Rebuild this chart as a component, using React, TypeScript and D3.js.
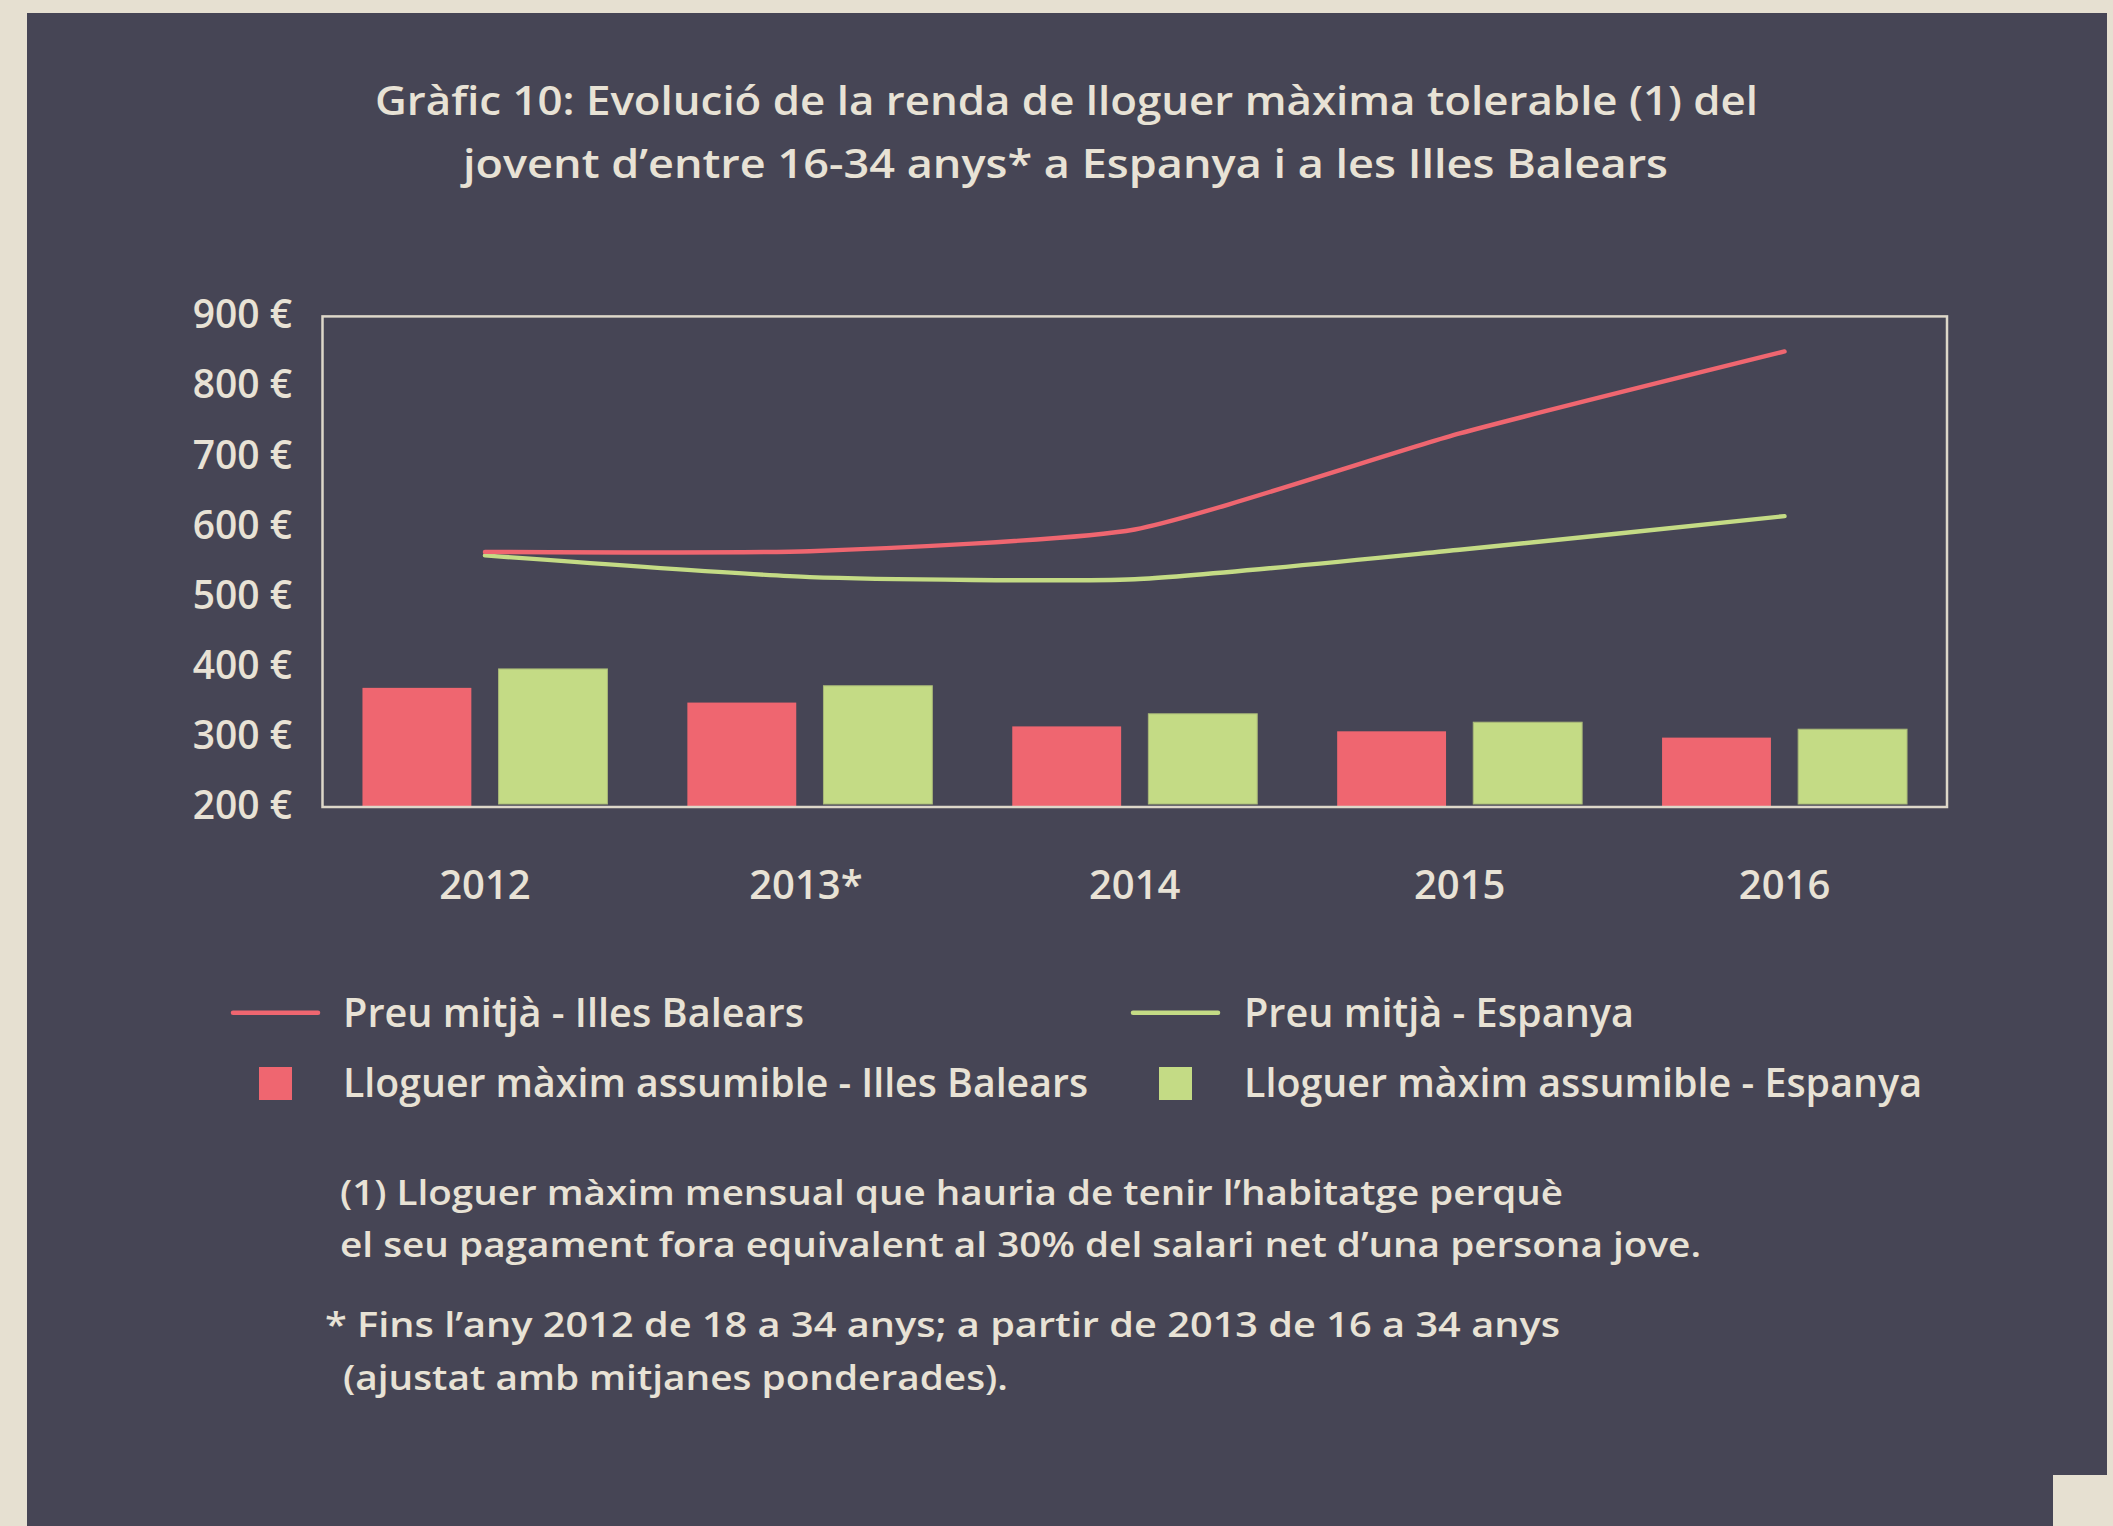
import React from "react";
import * as d3 from "d3";

const years = ["2012", "2013*", "2014", "2015", "2016"];
const preuBalears = [564, 565, 596, 733, 850];
const preuEspanya = [559, 528, 525, 567, 615];
const lloguerBalears = [370, 349, 315, 308, 299];
const lloguerEspanya = [397, 373, 333, 321, 311];
const yTicks = [200, 300, 400, 500, 600, 700, 800, 900];

const titleLines = [
  "Gràfic 10: Evolució de la renda de lloguer màxima tolerable (1) del",
  "jovent d\u2019entre 16-34 anys* a Espanya i a les Illes Balears",
];
const legendLabels = [
  "Preu mitjà - Illes Balears",
  "Preu mitjà - Espanya",
  "Lloguer màxim assumible - Illes Balears",
  "Lloguer màxim assumible - Espanya",
];
const noteLines = [
  "(1) Lloguer màxim mensual que hauria de tenir l\u2019habitatge perquè",
  "el seu pagament fora equivalent al 30% del salari net d\u2019una persona jove.",
  "* Fins l\u2019any 2012 de 18 a 34 anys; a partir de 2013 de 16 a 34 anys",
  "(ajustat amb mitjanes ponderades).",
];

const W = 2113;
const H = 1526;
const BG = "#e6e0d1";
const PANEL = "#464555";
const TEXT = "#e8e2d5";
const RED = "#ef6670";
const GREEN = "#c4db85";
const FONT = "'Open Sans', Lato, sans-serif";

export default function App() {
  const left = 322.5;
  const right = 1947;
  const top = 316.4;
  const bottom = 807;

  const x0 = d3
    .scaleBand<string>()
    .domain(years)
    .range([left, right])
    .paddingInner(0.246)
    .paddingOuter(0.123);
  const x1 = d3
    .scaleBand<string>()
    .domain(["b", "e"])
    .range([0, x0.bandwidth()])
    .paddingInner(0.2)
    .paddingOuter(0);
  const y = d3.scaleLinear().domain([200, 900]).range([bottom, top]);

  const cx = (i: number) => (x0(years[i]) as number) + x0.bandwidth() / 2;
  const line = d3
    .line<number>()
    .x((_, i) => cx(i))
    .y((d) => y(d))
    .curve(d3.curveCardinal.tension(0.45));

  const T = (props: any) => (
    <text fill={TEXT} fontWeight={600} lengthAdjust="spacingAndGlyphs" {...props} />
  );

  return (
    <svg
      width={W}
      height={H}
      style={{ position: "absolute", left: 0, top: 0, display: "block" }}
      fontFamily={FONT}
    >
      <rect x={0} y={0} width={W} height={H} fill={BG} />
      <path d={`M27,13 H2107 V1475 H2053 V${H} H27 Z`} fill={PANEL} />

      {/* Title */}
      <T x={375} y={115} fontSize={40} textLength={1383}>{titleLines[0]}</T>
      <T x={463} y={178} fontSize={40} textLength={1205}>{titleLines[1]}</T>

      {/* Bars */}
      {years.map((yr, i) => (
        <g key={yr}>
          <rect
            x={(x0(yr) as number) + (x1("b") as number)}
            y={y(lloguerBalears[i])}
            width={x1.bandwidth()}
            height={bottom - y(lloguerBalears[i])}
            fill={RED}
          />
          <rect
            x={(x0(yr) as number) + (x1("e") as number)}
            y={y(lloguerEspanya[i])}
            width={x1.bandwidth()}
            height={bottom - 3 - y(lloguerEspanya[i])}
            fill={GREEN}
            stroke="#a8b878"
            strokeWidth={1}
          />
        </g>
      ))}

      {/* Frame */}
      <rect
        x={left}
        y={top}
        width={right - left}
        height={bottom - top}
        fill="none"
        stroke="#ddd7c9"
        strokeWidth={2.5}
      />

      {/* Lines */}
      <path d={line(preuEspanya) || ""} fill="none" stroke={GREEN} strokeWidth={4.4} strokeLinecap="round" />
      <path d={line(preuBalears) || ""} fill="none" stroke={RED} strokeWidth={4.4} strokeLinecap="round" />

      {/* Y axis labels */}
      {yTicks.map((t) => (
        <text key={t} x={292} y={y(t) + 12} textAnchor="end" fontSize={39} fill={TEXT} fontWeight={600}>
          {`${t} €`}
        </text>
      ))}

      {/* X axis labels */}
      {years.map((yr, i) => (
        <text key={yr} x={cx(i) + (yr.endsWith("*") ? -4 : 0)} y={899} textAnchor="middle" fontSize={40} fill={TEXT} fontWeight={600}>
          {yr}
        </text>
      ))}

      {/* Legend */}
      <line x1={233} x2={318} y1={1012.7} y2={1012.7} stroke={RED} strokeWidth={4.5} strokeLinecap="round" />
      <T x={343} y={1027} fontSize={39} textLength={461}>{legendLabels[0]}</T>
      <line x1={1133} x2={1218} y1={1012.7} y2={1012.7} stroke={GREEN} strokeWidth={4.5} strokeLinecap="round" />
      <T x={1244} y={1027} fontSize={39} textLength={390}>{legendLabels[1]}</T>
      <rect x={259} y={1067} width={33} height={33} fill={RED} />
      <T x={343} y={1097} fontSize={39} textLength={745}>{legendLabels[2]}</T>
      <rect x={1159} y={1067} width={33} height={33} fill={GREEN} />
      <T x={1244} y={1097} fontSize={39} textLength={678}>{legendLabels[3]}</T>

      {/* Notes */}
      <T x={340} y={1205} fontSize={35} textLength={1223}>{noteLines[0]}</T>
      <T x={340} y={1257} fontSize={35} textLength={1361}>{noteLines[1]}</T>
      <T x={325} y={1337} fontSize={35} textLength={1235}>{noteLines[2]}</T>
      <T x={343} y={1390} fontSize={35} textLength={665}>{noteLines[3]}</T>
    </svg>
  );
}
